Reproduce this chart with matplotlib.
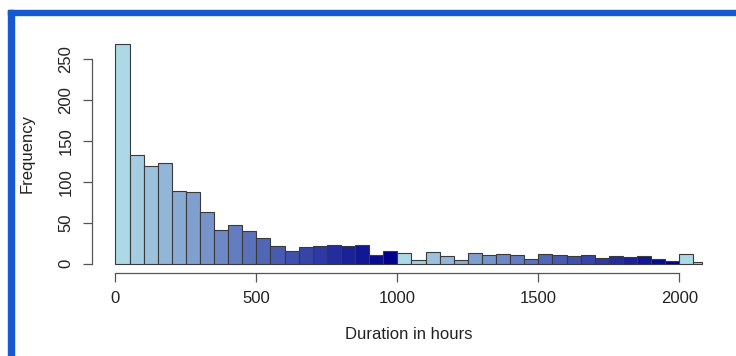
"""
Histogram of durations, R-style base graphics look
"""
import numpy as np

import matplotlib as mpl
mpl.use('Agg')
import matplotlib.pyplot as plt
from matplotlib.patches import Rectangle
from matplotlib.colors import to_rgb

plt.rcParams['font.family'] = ['Liberation Sans', 'DejaVu Sans']

# bin edges (hours) and counts
bin_edges = [0, 50, 100, 150, 200, 250, 300, 350, 400, 450, 500,
             550, 600, 650, 700, 750, 800, 850, 900, 950, 1000,
             1050, 1100, 1150, 1200, 1250, 1300, 1350, 1400, 1450, 1500,
             1550, 1600, 1650, 1700, 1750, 1800, 1850, 1900, 1950, 2000,
             2050, 2080]
counts = [268, 133, 119, 123, 89, 88, 63, 41, 47, 40,
          31, 22, 16, 20, 21, 23, 22, 23, 10, 16,
          13, 5, 14, 9, 4, 13, 10, 12, 10, 6,
          12, 11, 9, 11, 7, 9, 8, 9, 6, 3,
          12, 2]
x_ticks = [0, 500, 1000, 1500, 2000]
y_ticks = [0, 50, 100, 150, 200, 250]

# colour ramp lightblue -> darkblue, 20 steps, recycled
n_cols = 20
c0 = np.array(to_rgb('#ADD8E6'))
c1 = np.array(to_rgb('#00008B'))
ramp = [tuple(c0 + (c1 - c0) * i / (n_cols - 1)) for i in range(n_cols)]
bar_cols = [ramp[i % n_cols] for i in range(len(counts))]

#######################################
# Setup figure
#######################################
fig = plt.figure(figsize=(7.36, 3.56), dpi=100)
W, H = 736.0, 356.0
ax = fig.add_axes([92 / W, 1 - 272.7 / H, 633.3 / W, 237.5 / H])

lefts = bin_edges[:-1]
widths = np.diff(bin_edges)
ax.bar(lefts, counts, width=widths, align='edge', color=bar_cols,
       edgecolor='#3a3a3a', linewidth=0.8)

ax.set_xlim(-83, 2163)
ax.set_ylim(-11, 278.7)

for s in ['top', 'right']:
    ax.spines[s].set_visible(False)
for s in ['left', 'bottom']:
    ax.spines[s].set_color('#555555')
    ax.spines[s].set_linewidth(0.9)
ax.spines['bottom'].set_bounds(0, 2000)
ax.spines['left'].set_bounds(0, 250)

ax.set_xticks(x_ticks)
ax.set_yticks(y_ticks)
ax.set_yticklabels([str(v) for v in y_ticks], rotation=90, va='center')
ax.tick_params(axis='both', length=6.5, width=0.9, color='#555555',
               labelsize=12, labelcolor='#222222')
ax.tick_params(axis='x', pad=7)
ax.tick_params(axis='y', pad=7)

ax.set_xlabel('Duration in hours', fontsize=12, color='#222222', labelpad=15)
ax.set_ylabel('Frequency', fontsize=12, color='#222222', labelpad=17)

# blue frame on top and left edges
frame_col = '#1558D0'
fig.patches.append(Rectangle((8 / W, 1 - 15 / H), 1 - 8 / W, 5 / H,
                             transform=fig.transFigure, color=frame_col,
                             zorder=5))
fig.patches.append(Rectangle((8 / W, 0), 6 / W, 1 - 10 / H,
                             transform=fig.transFigure, color=frame_col,
                             zorder=5))

fig.savefig('out.png', dpi=100)
